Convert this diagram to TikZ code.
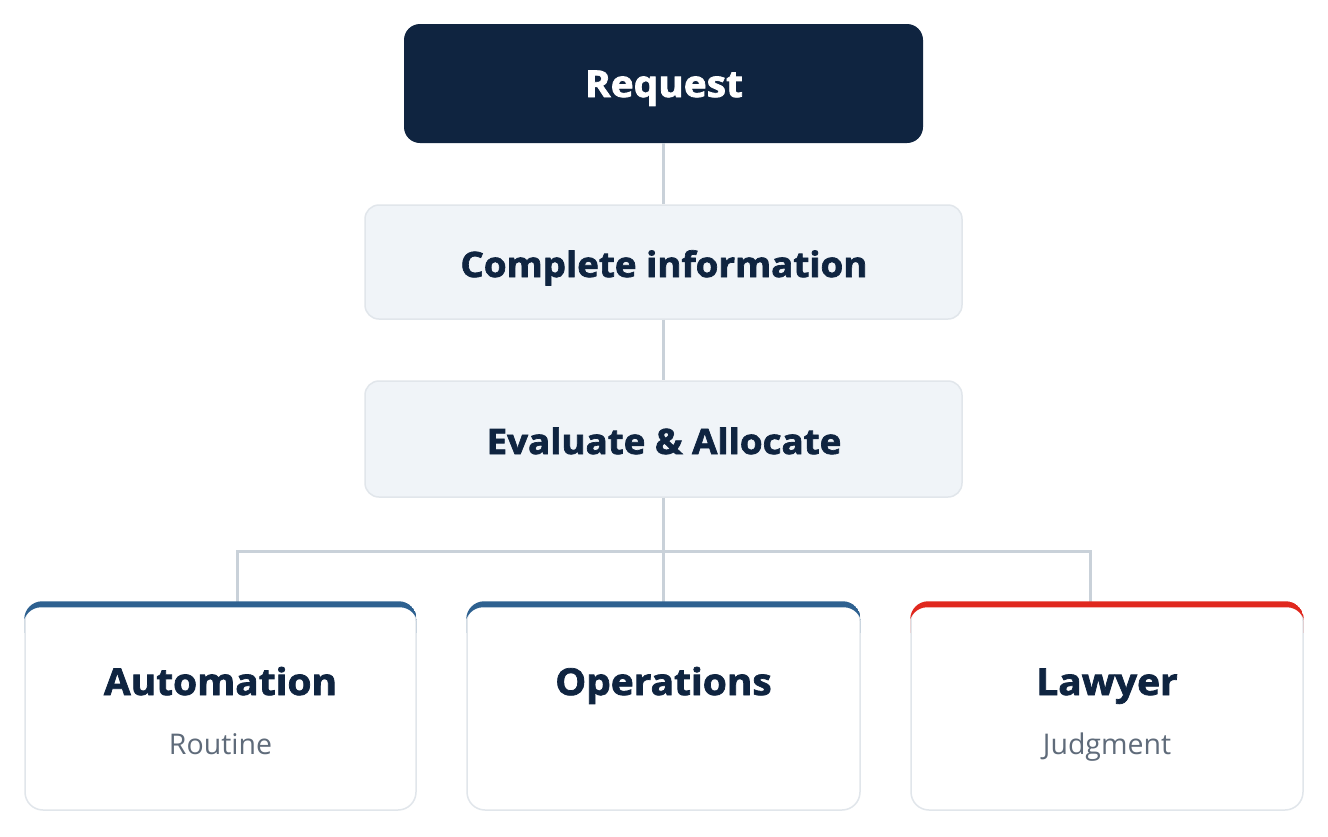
\documentclass[tikz,border=0pt]{standalone}
\usepackage{fontspec}
\setmainfont{Open Sans}[BoldFeatures={FakeBold=2, FakeStretch=1.05}]
\definecolor{navy}{HTML}{0F2440}
\definecolor{barblue}{HTML}{2E6190}
\definecolor{barred}{HTML}{E0281E}
\definecolor{subgray}{HTML}{5F6B7A}
\definecolor{lightfill}{HTML}{F0F4F8}
\definecolor{lightborder}{HTML}{E1E6EB}
\definecolor{wire}{HTML}{C9D1D9}
\begin{document}
\begin{tikzpicture}[x=1pt,y=-1pt,
  reqbox/.style={fill=navy, draw=none, rounded corners=16pt, minimum width=519pt, minimum height=119pt, inner sep=0pt},
  midbox/.style={fill=lightfill, draw=lightborder, line width=1.5pt, rounded corners=14pt, minimum width=597pt, minimum height=114pt, inner sep=0pt},
  card/.style={fill=white, draw=lightborder, line width=1.5pt, rounded corners=18pt, minimum height=207pt, inner sep=0pt},
  reqtext/.style={anchor=base, text=white, font=\fontsize{37}{44}\selectfont\bfseries, inner sep=0pt},
  midtext/.style={anchor=base, text=navy, font=\fontsize{35}{42}\selectfont\bfseries, inner sep=0pt},
  cardtitle/.style={anchor=base, text=navy, font=\fontsize{37}{44}\selectfont\bfseries, inner sep=0pt},
  cardsub/.style={anchor=base, text=subgray, font=\fontsize{28.5}{34}\selectfont, inner sep=0pt},
  wireline/.style={draw=wire, line width=3pt}
]
\useasboundingbox (0,0) rectangle (1328,836);
\fill[white] (0,0) rectangle (1328,836);

\node[reqbox] (req) at (663.5,83.5) {};
\node[midbox] (ci) at (663.5,262) {};
\node[midbox, minimum height=116pt] (ea) at (663.5,439) {};
\node[reqtext] (reqt) at (664,97) {Request};
\node[midtext] (cit) at (664,277) {Complete information};
\node[midtext] (eat) at (664,454) {Evaluate \& Allocate};

\coordinate (j) at (663.5,551.5);
\coordinate (jl) at (237.5,603);
\coordinate (jr) at (1090,603);

\draw[wireline] (req) -- (ci);
\draw[wireline] (ci) -- (ea);
\draw[wireline] (ea) -- (j);
\draw[wireline] (j) -| (jl);
\draw[wireline] (j) -| (jr);

\node[card, minimum width=391pt] (auto) at (220.5,706.5) {};
\node[card, minimum width=393pt] (ops) at (663.5,706.5) {};
\node[card, minimum width=392pt] (law) at (1107,706.5) {};
\draw[wireline] (j) -- (ops.north);

\foreach \b/\c in {auto/barblue, ops/barblue, law/barred}{
  \begin{scope}
    \clip[rounded corners=18pt] ([yshift=1pt]\b.north west) rectangle (\b.south east);
    \clip ([xshift=-2pt,yshift=2pt]\b.north west) rectangle ([xshift=2pt,yshift=-30pt]\b.north east);
    \fill[\c, even odd rule, rounded corners=18pt]
      ([yshift=1pt]\b.north west) rectangle (\b.south east)
      ([xshift=-1pt,yshift=-5pt]\b.north west) rectangle ([xshift=1pt,yshift=-20pt]\b.south east);
  \end{scope}
}

\node[cardtitle] (autot) at (220.5,695) {Automation};
\node[cardsub] (autos) at (220.5,754) {Routine};
\node[cardtitle] (opst) at (663.5,695) {Operations};
\node[cardtitle] (lawt) at (1107,695) {Lawyer};
\node[cardsub] (laws) at (1107,754) {Judgment};
\end{tikzpicture}
\end{document}
